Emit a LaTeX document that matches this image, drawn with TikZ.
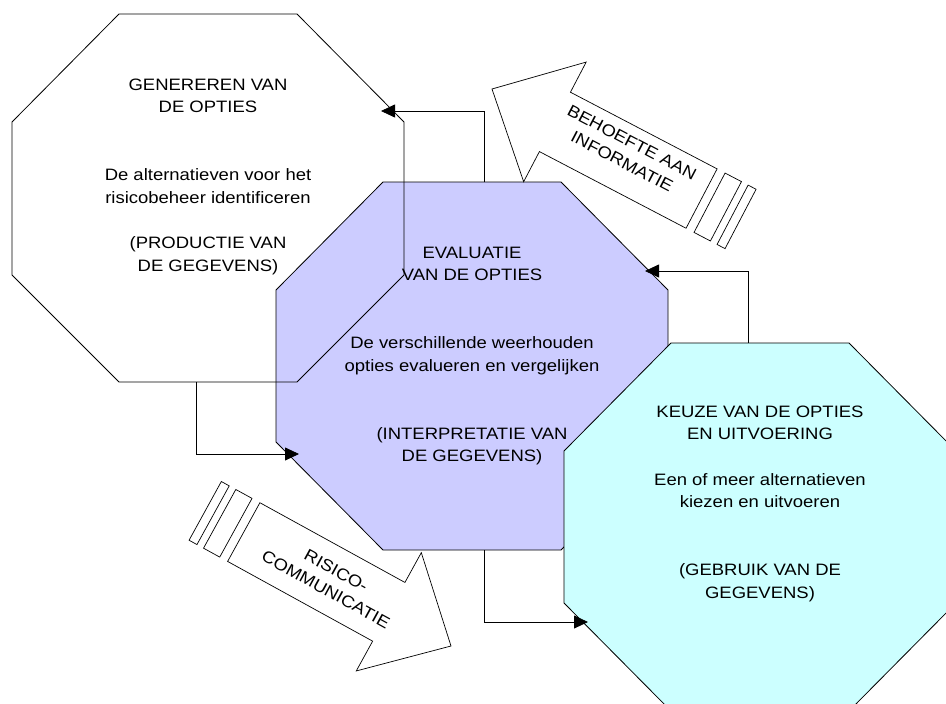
\documentclass[tikz,border=0pt]{standalone}
\usepackage{fontspec}
\setmainfont{Liberation Sans}[FakeStretch=1.12]
\usetikzlibrary{arrows.meta}
\definecolor{paars}{HTML}{CCCCFF}
\definecolor{turkoois}{HTML}{CCFFFF}
\tikzset{
  octline/.style={draw=black, line width=0.8pt, line join=miter},
  conn/.style={draw=black, line width=0.8pt, -{Triangle[length=14pt,width=13pt]}},
  bigarrow/.style={draw=black, fill=white, line width=0.7pt, line join=miter},
  txt/.style={font=\fontsize{16.5}{22.6}\selectfont, align=center, inner sep=0pt, anchor=north},
  atxt/.style={font=\fontsize{16.5}{21.5}\selectfont, align=center, inner sep=0pt, anchor=center},
}
\begin{document}
\begin{tikzpicture}[x=1pt, y=-1pt]
\useasboundingbox (0,0) rectangle (946,704);
\clip (0,0) rectangle (946,704);

% purple octagon (evaluatie)
\path[octline, fill=paars] (383,182) -- (561,182) -- (668,290) -- (668,442) -- (561,550) -- (383,550) -- (276,442) -- (276,290) -- cycle;
% cyan octagon (keuze)
\path[octline, fill=turkoois] (671,343) -- (849,343) -- (956,451) -- (956,603) -- (849,711) -- (671,711) -- (564,603) -- (564,451) -- cycle;
% white octagon (genereren), outline only
\path[octline] (119,14) -- (297,14) -- (404,122) -- (404,275) -- (297,382) -- (119,382) -- (12,275) -- (12,122) -- cycle;

% connector anchor points
\coordinate (ptop) at (484,182);
\coordinate (wedge) at (381,111);
\coordinate (ctop) at (748,343);
\coordinate (pedge) at (645,271);
\coordinate (pbot) at (484,550);
\coordinate (cedge) at (588,622);
\coordinate (wbot) at (196,382);
\coordinate (pleft) at (299,454);

\draw[conn] (ptop) |- (wedge);
\draw[conn] (ctop) |- (pedge);
\draw[conn] (pbot) |- (cedge);
\draw[conn] (wbot) |- (pleft);

% block arrow: behoefte aan informatie
\begin{scope}[shift={(492,89)}, rotate=-27.6]
  \path[bigarrow] (0,0) -- (71,67.5) -- (71,33.5) -- (236.5,33.5) -- (236.5,-33.5) -- (71,-33.5) -- (71,-67.5) -- cycle;
  \path[bigarrow] (245.5,-33.5) rectangle (264,33.5);
  \path[bigarrow] (271.5,-33.5) rectangle (280.5,33.5);
\end{scope}
% block arrow: risicocommunicatie
\begin{scope}[shift={(451,646)}, rotate=151.2]
  \path[bigarrow] (0,0) -- (71,67.5) -- (71,33.5) -- (236.5,33.5) -- (236.5,-33.5) -- (71,-33.5) -- (71,-67.5) -- cycle;
  \path[bigarrow] (245.5,-33.5) rectangle (264,33.5);
  \path[bigarrow] (271.5,-33.5) rectangle (280.5,33.5);
\end{scope}

% texts
\node[txt] (tgen) at (208,75) {\rule{0pt}{15pt}GENEREREN VAN\\DE OPTIES\\[45.2pt]De alternatieven voor het\\risicobeheer identificeren\\[22.6pt](PRODUCTIE VAN\\DE GEGEVENS)};
\node[txt] (teval) at (472,243) {\rule{0pt}{15pt}EVALUATIE\\VAN DE OPTIES\\[45.2pt]De verschillende weerhouden\\opties evalueren en vergelijken\\[45.2pt](INTERPRETATIE VAN\\DE GEGEVENS)};
\node[txt] (tkeuze) at (760,402) {\rule{0pt}{15pt}KEUZE VAN DE OPTIES\\EN UITVOERING\\[22.6pt]Een of meer alternatieven\\kiezen en uitvoeren\\[45.2pt](GEBRUIK VAN DE\\GEGEVENS)};
\node[atxt, rotate=-27.6] (tinfo) at (627,152) {BEHOEFTE AAN\\INFORMATIE};
\node[atxt, rotate=-28.8] (tcomm) at (331,580) {RISICO-\\COMMUNICATIE};
\end{tikzpicture}
\end{document}
